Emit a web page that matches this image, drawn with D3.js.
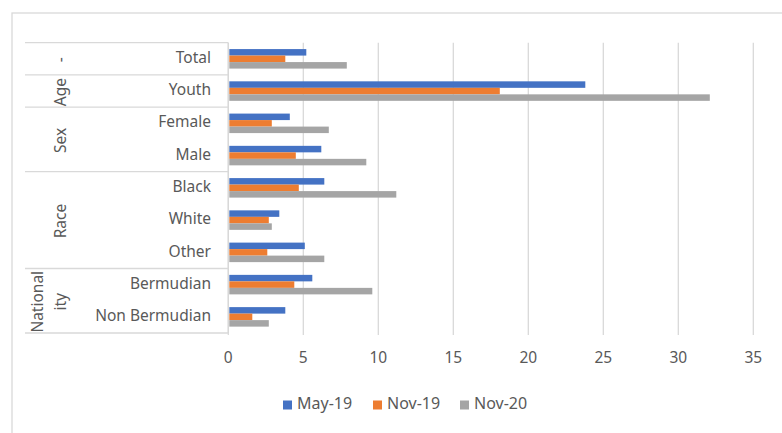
<!DOCTYPE html>
<html>
<head>
<meta charset="utf-8">
<script src="https://cdn.jsdelivr.net/npm/d3@7"></script>
<style>
  body { margin: 0; background: #fff; }
  svg text { font-family: "Noto Sans", "Open Sans", sans-serif; fill: #595959; }
</style>
</head>
<body>
<div id="chart"></div>
<script>
// categories top to bottom, with their group label
const categories = ["Total", "Youth", "Female", "Male", "Black", "White", "Other", "Bermudian", "Non Bermudian"];
const groups = [
  { label: ["-"], rows: ["Total"] },
  { label: ["Age"], rows: ["Youth"] },
  { label: ["Sex"], rows: ["Female", "Male"] },
  { label: ["Race"], rows: ["Black", "White", "Other"] },
  { label: ["National", "ity"], rows: ["Bermudian", "Non Bermudian"] }
];
const seriesNames = ["May-19", "Nov-19", "Nov-20"];
const may19 = [5.2, 23.8, 4.1, 6.2, 6.4, 3.4, 5.1, 5.6, 3.8];
const nov19 = [3.8, 18.1, 2.9, 4.5, 4.7, 2.7, 2.6, 4.4, 1.6];
const nov20 = [7.9, 32.1, 6.7, 9.2, 11.2, 2.9, 6.4, 9.6, 2.7];
const colors = ["#4472c4", "#ed7d31", "#a5a5a5"];
const xTicks = [0, 5, 10, 15, 20, 25, 30, 35];

const W = 782, H = 433;
const plot = { left: 228.3, right: 753.3, top: 42.7, bottom: 333 };
const fs = 15.5;

const svg = d3.select("#chart").append("svg")
  .attr("width", W).attr("height", H);

// chart area border (runs off right/bottom)
svg.append("rect")
  .attr("x", 12).attr("y", 13).attr("width", 800).attr("height", 440)
  .attr("fill", "none").attr("stroke", "#d9d9d9").attr("stroke-width", 1.3);

const x = d3.scaleLinear().domain([0, 35]).range([plot.left, plot.right]);
const y0 = d3.scaleBand().domain(categories).range([plot.top, plot.bottom]);
const y1 = d3.scaleBand().domain(seriesNames).range([0, y0.bandwidth()]).paddingOuter(0.98);

// gridlines
svg.append("g").selectAll("line").data(xTicks).join("line")
  .attr("x1", d => x(d)).attr("x2", d => x(d))
  .attr("y1", plot.top).attr("y2", plot.bottom + 2)
  .attr("stroke", "#d9d9d9").attr("stroke-width", 1.3);

// x tick labels
svg.append("g").selectAll("text").data(xTicks).join("text")
  .attr("x", d => x(d)).attr("y", 363)
  .attr("text-anchor", "middle").attr("font-size", fs)
  .text(d => d);

// bars
const rows = categories.map((c, i) => ({
  cat: c,
  vals: [may19[i], nov19[i], nov20[i]]
}));
const rowG = svg.append("g").selectAll("g").data(rows).join("g")
  .attr("transform", d => `translate(0,${y0(d.cat)})`);
rowG.selectAll("rect")
  .data(d => d.vals.map((v, j) => ({ s: seriesNames[j], v, j })))
  .join("rect")
  .attr("x", x(0) + 1)
  .attr("y", d => y1(d.s))
  .attr("width", d => x(d.v) - x(0) - 1)
  .attr("height", y1.bandwidth())
  .attr("fill", d => colors[d.j]);

// axis line (vertical)
svg.append("line")
  .attr("x1", plot.left).attr("x2", plot.left)
  .attr("y1", plot.top).attr("y2", plot.bottom)
  .attr("stroke", "#d9d9d9").attr("stroke-width", 1.3);

// category labels
svg.append("g").selectAll("text").data(categories).join("text")
  .attr("x", 211).attr("y", d => y0(d) + y0.bandwidth() / 2)
  .attr("text-anchor", "end").attr("dominant-baseline", "middle")
  .attr("font-size", fs)
  .text(d => d);

// group separator lines
const sepYs = [plot.top].concat(groups.map(g => y0(g.rows[g.rows.length - 1]) + y0.bandwidth()));
svg.append("g").selectAll("line").data(sepYs).join("line")
  .attr("x1", 25).attr("x2", plot.left)
  .attr("y1", d => d).attr("y2", d => d)
  .attr("stroke", "#d9d9d9").attr("stroke-width", 1.3);

// group labels (rotated)
groups.forEach(g => {
  const top = y0(g.rows[0]);
  const bot = y0(g.rows[g.rows.length - 1]) + y0.bandwidth();
  const cy = (top + bot) / 2;
  const n = g.label.length;
  g.label.forEach((t, k) => {
    const cx = 62 - (n - 1 - k) * 23;
    svg.append("text")
      .attr("transform", `translate(${cx},${cy + 1}) rotate(-90)`)
      .attr("text-anchor", "middle").attr("dominant-baseline", "middle")
      .attr("font-size", fs)
      .text(t);
  });
});

// legend
const legendX = [283, 373, 460];
const leg = svg.append("g").selectAll("g").data(seriesNames).join("g")
  .attr("transform", (d, i) => `translate(${legendX[i]},405)`);
leg.append("rect")
  .attr("x", 0).attr("y", -4.5).attr("width", 9).attr("height", 9)
  .attr("fill", (d, i) => colors[i]);
leg.append("text")
  .attr("x", 14).attr("y", 0).attr("dominant-baseline", "middle")
  .attr("font-size", fs + 0.5)
  .text(d => d);
</script>
</body>
</html>
